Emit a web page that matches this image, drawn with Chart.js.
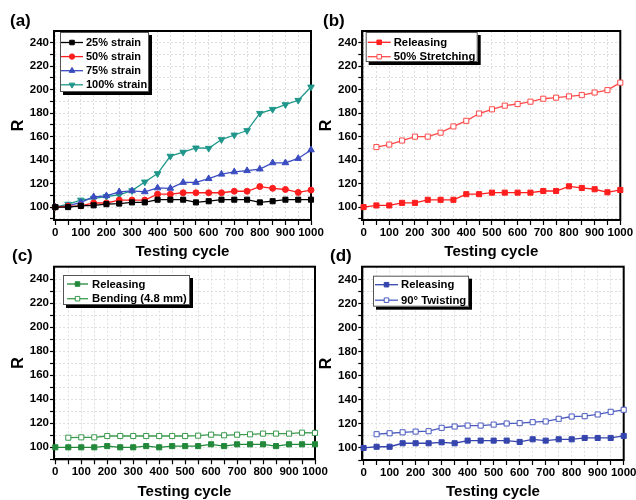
<!DOCTYPE html>
<html><head><meta charset="utf-8">
<script src="https://cdn.jsdelivr.net/npm/chart.js@4"></script>
<style>
html,body{margin:0;padding:0;background:#fff;overflow:hidden;width:636px;height:500px;position:relative;}
.c{position:absolute;}
.lbl{position:absolute;font:bold 17px "Liberation Sans",Arial,sans-serif;color:#000;line-height:1;}
</style></head><body>
<div class="c" style="left:0;top:0"><canvas id="ca" width="340" height="262"></canvas></div>
<div class="c" style="left:316px;top:0"><canvas id="cb" width="320" height="262"></canvas></div>
<div class="c" style="left:0;top:245px"><canvas id="cc" width="340" height="257"></canvas></div>
<div class="c" style="left:316px;top:245px"><canvas id="cd" width="322" height="257"></canvas></div>
<div class="lbl" style="left:10px;top:12px">(a)</div>
<div class="lbl" style="left:323px;top:12px">(b)</div>
<div class="lbl" style="left:12px;top:247px">(c)</div>
<div class="lbl" style="left:330px;top:247px">(d)</div>
<script>
// ---- data ----
const cycles = [0,50,100,150,200,250,300,350,400,450,500,550,600,650,700,750,800,850,900,950,1000];
const cyclesFrom50 = cycles.slice(1);
const strain25 = [100,100,101,101.5,102.5,103,104,104,106.3,106.3,106.3,104,105,106.3,106.3,106.3,104,105,106.3,106.3,106.3];
const strain50 = [100,100.8,101,103.5,103.5,106,106,106,111,111,112.2,112.2,112.2,112.2,113.5,113.5,117.5,116,115,112.5,114.5];
const strain75 = [100,101,104,108.7,109.6,113,113.8,113,116.3,116,121,121,124.2,128,130,131,132.4,137.7,137.7,141.4,148.7];
const strain100 = [100,102.5,106,107.5,109,110.5,114,121.4,128.5,143.4,146.8,150.4,150.1,157.5,161.4,165.2,179.9,183.3,187.3,191,202.3];
const bReleasing = [100,101.4,101.4,103.6,103.6,106.2,106.2,106.2,111,111,112.3,112.3,112.3,112.3,113.7,113.7,117.7,116.3,115.2,112.6,114.6];
const bStretching = [151.1,153.3,156.7,160,160,163.4,168.7,173.5,179.7,183.3,186.4,187.8,189.8,192.3,193.2,194.3,195.4,197.6,199.6,206];
const cReleasing = [100,100,100,100,101,100,100,101,100,101,101,101,102.5,101,102.5,102.5,102.5,101,102.5,102.5,102.5];
const cBending = [108,108.3,108.3,109.4,109.4,109.4,109.4,109.4,109.4,109.4,109.7,110.5,110,110.5,110.8,111.4,111.4,111.4,112.2,112];
const dReleasing = [100,101,101,103.9,103.9,103.9,104.7,103.9,106.1,106.1,106.1,106.1,105,107.2,106.1,107.2,107.2,108.3,108.3,108.3,110];
const dTwisting = [111.4,112.2,113,113.6,113.9,116.7,117.8,118.6,118.6,119.4,120.3,120.6,121.4,122,124.2,126.1,126.4,127.8,130,131.7];
const xTickLabels = [0,100,200,300,400,500,600,700,800,900,1000];
const yTickLabels = [100,120,140,160,180,200,220,240];

// minor positions (midpoints) for grid / ticks
const xGrid = [];
xTickLabels.forEach((v,i)=>{ xGrid.push(v); if(i<xTickLabels.length-1) xGrid.push((v+xTickLabels[i+1])/2); });
const yGrid = [yTickLabels[0]-(yTickLabels[1]-yTickLabels[0])/2];
yTickLabels.forEach((v,i)=>{ yGrid.push(v); if(i<yTickLabels.length-1) yGrid.push((v+yTickLabels[i+1])/2); });

const FONT = '"Liberation Sans", Arial, sans-serif';
Chart.defaults.font.family = FONT;
Chart.defaults.font.weight = 'bold';
Chart.defaults.color = '#000';

function pts(xs, ys){ return ys.map((y,i)=>({x:xs[i], y:y})); }

function ds(label, xs, ys, color, style, opts){
  return Object.assign({
    label, data: pts(xs, ys), borderColor: color, backgroundColor: color,
    borderWidth: 1.3, pointStyle: style, pointRadius: 3.2,
    pointBackgroundColor: color, pointBorderColor: color, pointBorderWidth: 1,
    tension: 0, clip: false, pointHoverRadius: 3.2
  }, opts || {});
}

const framePlugin = {
  id: 'frame',
  beforeDatasetsDraw(chart){
    const a = chart.chartArea, ctx = chart.ctx;
    ctx.save(); ctx.strokeStyle = '#000'; ctx.lineWidth = 2;
    ctx.strokeRect(a.left, a.top, a.right - a.left, a.bottom - a.top);
    ctx.restore();
  }
};

const boxLegendPlugin = {
  id: 'boxLegend',
  afterDraw(chart, args, o){
    const ctx = chart.ctx;
    ctx.save();
    ctx.fillStyle = '#000';
    ctx.fillRect(o.x + 3, o.y + 3, o.w, o.h);
    ctx.fillStyle = '#fff';
    ctx.fillRect(o.x, o.y, o.w, o.h);
    ctx.strokeStyle = '#555'; ctx.lineWidth = 1;
    ctx.strokeRect(o.x + 0.5, o.y + 0.5, o.w - 1, o.h - 1);
    ctx.font = 'bold ' + o.fontSize + 'px ' + FONT;
    ctx.textBaseline = 'middle'; ctx.textAlign = 'left';
    chart.data.datasets.forEach((d, i) => {
      const yy = o.y + o.rows[i];
      ctx.strokeStyle = d.borderColor; ctx.lineWidth = 1.3;
      ctx.beginPath(); ctx.moveTo(o.x + o.l0, yy); ctx.lineTo(o.x + o.l1, yy); ctx.stroke();
      ctx.fillStyle = d.pointBackgroundColor; ctx.strokeStyle = d.pointBorderColor; ctx.lineWidth = 1;
      Chart.helpers.drawPoint(ctx, {pointStyle: d.pointStyle, rotation: d.pointRotation || 0, radius: d.pointStyle === 'rect' ? 3.2 : (d.pointStyle === 'triangle' ? 3.3 : 2.7), borderWidth: 1}, o.x + (o.l0 + o.l1) / 2, yy);
      ctx.fillStyle = '#000';
      ctx.fillText(d.label, o.x + o.tx, yy + 0.5);
    });
    ctx.restore();
  }
};

function makeChart(id, p){
  return new Chart(document.getElementById(id), {
    type: 'line',
    data: { datasets: p.datasets },
    plugins: [framePlugin, boxLegendPlugin],
    options: {
      responsive: false, animation: false,
      layout: { padding: p.pad },
      plugins: { legend: {display: false}, tooltip: {enabled: false}, boxLegend: p.legend },
      scales: {
        x: {
          type: 'linear', min: -5, max: 1000,
          afterBuildTicks: s => { s.ticks = xGrid.map(v => ({value: v})); },
          afterFit: s => { s.height = p.xh; },
          ticks: { callback: v => xTickLabels.includes(v) ? String(v) : '', maxRotation: 0, minRotation: 0, autoSkip: false, padding: 1, font: {size: 11.5, weight: 'bold'}, color: '#000' },
          grid: { color: '#dedede', lineWidth: 1, tickColor: '#000', tickLength: 5, tickWidth: 1.2 },
          border: { display: true, color: '#000', width: 2, dash: [2, 2] },
          title: { display: true, text: 'Testing cycle', font: {size: 15, weight: 'bold'}, color: '#000', padding: {top: 0, bottom: 1} }
        },
        y: {
          type: 'linear', min: p.ymin, max: p.ymax,
          afterBuildTicks: s => { s.ticks = yGrid.map(v => ({value: v})); },
          afterFit: s => { s.width = p.yw; },
          ticks: { callback: v => yTickLabels.includes(v) ? String(v) : '', autoSkip: false, padding: 1, font: {size: 11.5, weight: 'bold'}, color: '#000' },
          grid: { color: '#dedede', lineWidth: 1, tickColor: '#000', tickLength: 4, tickWidth: 1.2 },
          border: { display: true, color: '#000', width: 2, dash: [2, 2] },
          title: { display: true, text: 'R', font: {size: 16, weight: 'bold'}, color: '#000', padding: {top: p.rpad, bottom: 0} }
        }
      }
    }
  });
}

const RED = '#ff1e1e', BLK = '#000000', BLU = '#3a4cc0', TEAL = '#1f968a', GRN = '#22883a', BLU2 = '#3545ad';

makeChart('ca', {
  datasets: [
    ds('25% strain', cycles, strain25, BLK, 'rect', {pointRadius: 3.6}),
    ds('50% strain', cycles, strain50, RED, 'circle', {pointRadius: 3}),
    ds('75% strain', cycles, strain75, BLU, 'triangle', {pointRadius: 3.8}),
    ds('100% strain', cycles, strain100, TEAL, 'triangle', {pointRadius: 3.8, pointRotation: 180})
  ],
  pad: {left: 0, top: 31, right: 29, bottom: 0}, yw: 54, xh: 42, ymin: 89, ymax: 250, rpad: 9,
  legend: {x: 60, y: 32, w: 89, h: 60, rows: [10.5, 24.6, 38.7, 52.8], l0: 1, l1: 23, tx: 26, fontSize: 11}
});

makeChart('cb', {
  datasets: [
    ds('Releasing', cycles, bReleasing, RED, 'rect', {pointRadius: 3.6}),
    ds('50% Stretching', cyclesFrom50, bStretching, '#ff4a4a', 'rect', {pointRadius: 3.6, pointBackgroundColor: '#fff'})
  ],
  pad: {left: 0, top: 31, right: 15.7, bottom: 0}, yw: 46.3, xh: 42, ymin: 89, ymax: 250, rpad: 1,
  legend: {x: 49.7, y: 32, w: 112, h: 30, rows: [10.3, 24.7], l0: 2, l1: 25, tx: 28, fontSize: 11.3}
});

makeChart('cc', {
  datasets: [
    ds('Releasing', cycles, cReleasing, GRN, 'rect', {pointRadius: 3.6}),
    ds('Bending (4.8 mm)', cyclesFrom50, cBending, '#3a9a4e', 'rect', {pointRadius: 3.6, pointBackgroundColor: '#fff'})
  ],
  pad: {left: 0, top: 21.7, right: 25, bottom: 0}, yw: 54, xh: 42.7, ymin: 90, ymax: 250.5, rpad: 9,
  legend: {x: 63, y: 30, w: 127, h: 30, rows: [9, 23.7], l0: 4, l1: 25, tx: 29, fontSize: 11.3}
});

makeChart('cd', {
  datasets: [
    ds('Releasing', cycles, dReleasing, BLU2, 'rect', {pointRadius: 3.6}),
    ds('90\u00B0 Twisting', cyclesFrom50, dTwisting, '#4a5abf', 'rect', {pointRadius: 3.6, pointBackgroundColor: '#fff'})
  ],
  pad: {left: 0, top: 21.7, right: 14.3, bottom: 0}, yw: 46.3, xh: 42, ymin: 90, ymax: 250.5, rpad: 1,
  legend: {x: 57, y: 30.7, w: 96, h: 31, rows: [9, 24.5], l0: 2, l1: 25, tx: 28, fontSize: 11.3}
});
</script>
</body></html>
